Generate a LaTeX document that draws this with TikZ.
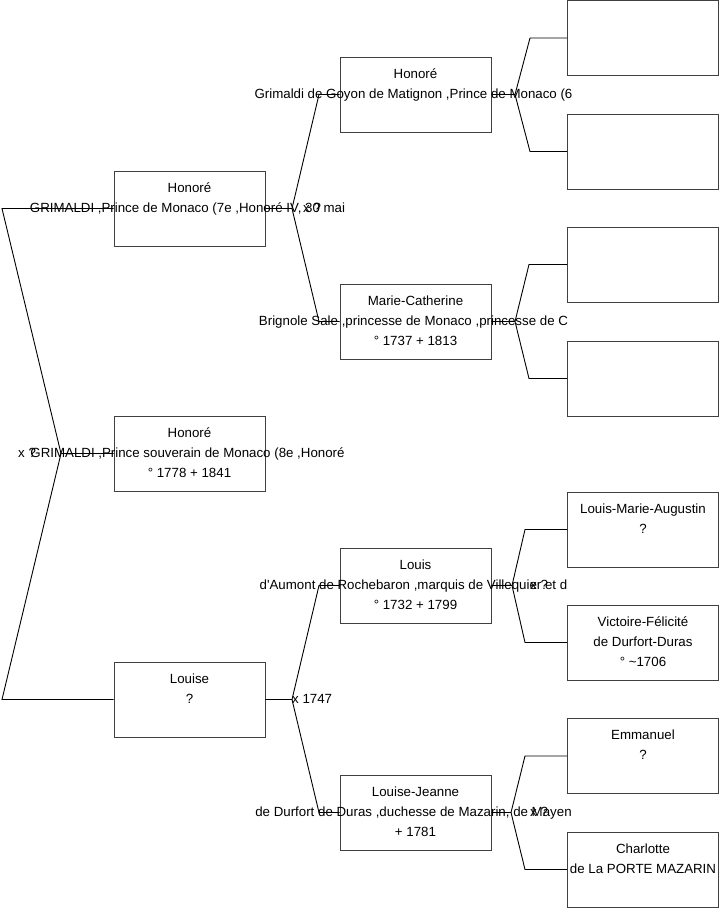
\documentclass[tikz,border=0pt]{standalone}
\usepackage{fontspec}
\setmainfont{Liberation Sans}[Ligatures=TeXOff]
\begin{document}
\begin{tikzpicture}[x=1pt,y=-1pt,
  pbox/.style={draw=black!75,line width=0.9pt,minimum width=151pt,minimum height=75pt,inner sep=0pt},
  tl/.style={anchor=base,inner sep=0pt,font=\fontsize{13.3}{15}\selectfont},
  lbl/.style={anchor=base west,inner sep=0pt,font=\fontsize{13.3}{15}\selectfont},
  conn/.style={draw=black,line width=0.9pt}]
\useasboundingbox[fill=white] (0,0) rectangle (719,908);

% column 3 boxes
\node[pbox] (c1) at (643,38) {};
\node[pbox] (c2) at (643,151.5) {};
\node[pbox] (c3) at (643,264.5) {};
\node[pbox] (c4) at (643,378.5) {};
\node[pbox] (c5) at (643,529.5) {};
\node[pbox] (c6) at (643,642.5) {};
\node[pbox] (c7) at (643,756) {};
\node[pbox] (c8) at (643,869.5) {};

% column 2 boxes
\node[pbox] (b1) at (415.5,94.5) {};
\node[pbox] (b2) at (415.5,321.5) {};
\node[pbox] (b3) at (415.5,585.5) {};
\node[pbox] (b4) at (415.5,812.5) {};

% column 1 boxes
\node[pbox] (a1) at (189.5,208.5) {};
\node[pbox] (r) at (189.5,453.5) {};
\node[pbox] (a2) at (189.5,699.5) {};

% texts column 3
\node[tl] (c5a) at ([yshift=16.5pt]c5.center) {Louis-Marie-Augustin};
\node[tl] (c5b) at ([yshift=-3.5pt]c5.center) {?};
\node[tl] (c6a) at ([yshift=16.5pt]c6.center) {Victoire-Félicité};
\node[tl] (c6b) at ([yshift=-3.5pt]c6.center) {de Durfort-Duras};
\node[tl] (c6c) at ([yshift=-23.5pt]c6.center) {° \textasciitilde1706};
\node[tl] (c7a) at ([yshift=16.5pt]c7.center) {Emmanuel};
\node[tl] (c7b) at ([yshift=-3.5pt]c7.center) {?};
\node[tl] (c8a) at ([yshift=16.5pt]c8.center) {Charlotte};
\node[tl] (c8b) at ([yshift=-3.5pt]c8.center) {de La PORTE MAZARIN};

% texts column 2
\node[tl] (b1a) at ([yshift=16.5pt]b1.center) {Honoré};
\node[tl] (b1b) at ([xshift=-2pt,yshift=-3.5pt]b1.center) {Grimaldi de Goyon de Matignon ,Prince de Monaco (6};
\node[tl] (b2a) at ([yshift=16.5pt]b2.center) {Marie-Catherine};
\node[tl] (b2b) at ([xshift=-2pt,yshift=-3.5pt]b2.center) {Brignole Sale ,princesse de Monaco ,princesse de C};
\node[tl] (b2c) at ([yshift=-23.5pt]b2.center) {° 1737 + 1813};
\node[tl] (b3a) at ([yshift=16.5pt]b3.center) {Louis};
\node[tl] (b3b) at ([xshift=-2pt,yshift=-3.5pt]b3.center) {d'Aumont de Rochebaron ,marquis de Villequier et d};
\node[tl] (b3c) at ([yshift=-23.5pt]b3.center) {° 1732 + 1799};
\node[tl] (b4a) at ([yshift=16.5pt]b4.center) {Louise-Jeanne};
\node[tl] (b4b) at ([xshift=-2pt,yshift=-3.5pt]b4.center) {de Durfort de Duras ,duchesse de Mazarin, de Mayen};
\node[tl] (b4c) at ([yshift=-23.5pt]b4.center) {+ 1781};

% texts column 1
\node[tl] (a1a) at ([yshift=16.5pt]a1.center) {Honoré};
\node[tl] (a1b) at ([xshift=-2pt,yshift=-3.5pt]a1.center) {GRIMALDI ,Prince de Monaco (7e ,Honoré IV, 30 mai};
\node[tl] (ra) at ([yshift=16.5pt]r.center) {Honoré};
\node[tl] (rb) at ([xshift=-2pt,yshift=-3.5pt]r.center) {GRIMALDI ,Prince souverain de Monaco (8e ,Honoré};
\node[tl] (rc) at ([yshift=-23.5pt]r.center) {° 1778 + 1841};
\node[tl] (a2a) at ([yshift=16.5pt]a2.center) {Louise};
\node[tl] (a2b) at ([yshift=-3.5pt]a2.center) {?};

% junction coordinates
\coordinate (j0) at (61,453.5);
\coordinate (j0t) at (2,208.5);
\coordinate (j0b) at (2,699.5);
\coordinate (j1) at (292,208.5);
\coordinate (j1t) at (319,94.5);
\coordinate (j1b) at (319,321.5);
\coordinate (j2) at (292,699.5);
\coordinate (j2t) at (319,585.5);
\coordinate (j2b) at (319,812.5);
\coordinate (k1) at (515,94.5);
\coordinate (k1t) at (530,38);
\coordinate (k1b) at (530,151.5);
\coordinate (k2) at (515,321.5);
\coordinate (k2t) at (529,264.5);
\coordinate (k2b) at (529,378.5);
\coordinate (k3) at (512,585.5);
\coordinate (k3t) at (525,529.5);
\coordinate (k3b) at (525,642.5);
\coordinate (k4) at (511,812.5);
\coordinate (k4t) at (525,756);
\coordinate (k4b) at (525,869.5);

% connectors
\draw[conn] (r.west) -- (j0) -- (j0t) -- (a1.west);
\draw[conn] (j0) -- (j0b) -- (a2.west);
\draw[conn] (a1.east) -- (j1) -- (j1t) -- (b1.west);
\draw[conn] (j1) -- (j1b) -- (b2.west);
\draw[conn] (a2.east) -- (j2) -- (j2t) -- (b3.west);
\draw[conn] (j2) -- (j2b) -- (b4.west);
\draw[conn] (b1.east) -- (k1) -- (k1t) -- (c1.west);
\draw[conn] (k1) -- (k1b) -- (c2.west);
\draw[conn] (b2.east) -- (k2) -- (k2t) -- (c3.west);
\draw[conn] (k2) -- (k2b) -- (c4.west);
\draw[conn] (b3.east) -- (k3) -- (k3t) -- (c5.west);
\draw[conn] (k3) -- (k3b) -- (c6.west);
\draw[conn] (b4.east) -- (k4) -- (k4t) -- (c7.west);
\draw[conn] (k4) -- (k4b) -- (c8.west);

% union labels
\node[lbl] (x0) at (18,457) {x ?};
\node[lbl] (x1) at (303,212) {x ?};
\node[lbl] (x2) at (292,703) {x 1747};
\node[lbl] (x3) at (530,589) {x ?};
\node[lbl] (x4) at (530,816) {x ?};
\end{tikzpicture}
\end{document}
